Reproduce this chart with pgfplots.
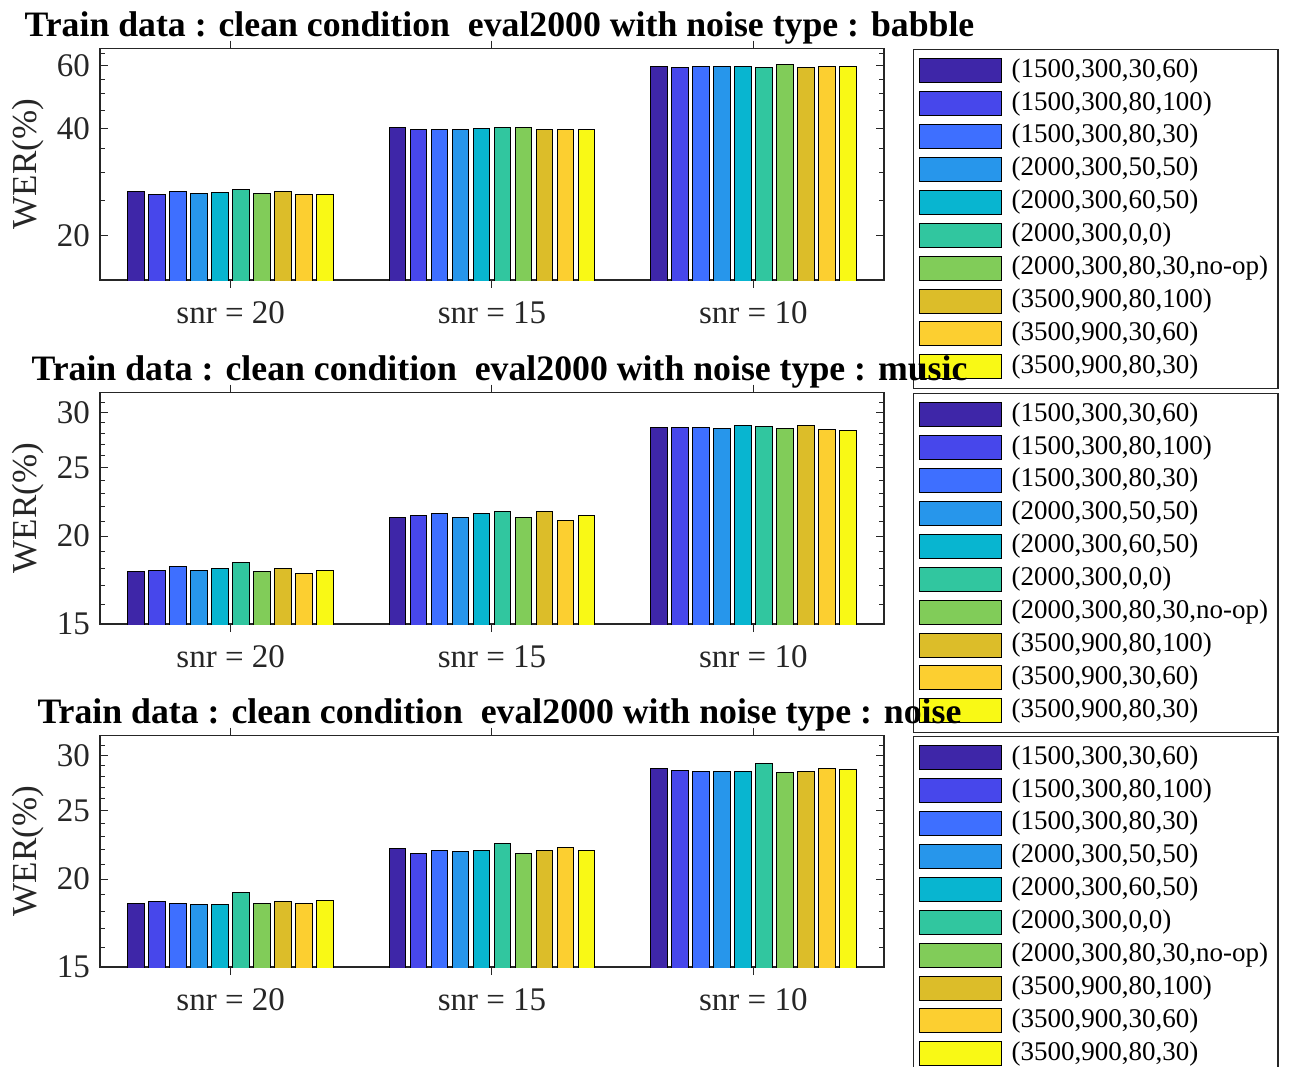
\documentclass[border=0pt]{standalone}
\usepackage{fontspec}
\setmainfont{Liberation Serif}
\usepackage{pgfplots}
\usepackage{pgfplotstable}
\pgfplotsset{compat=1.18}
\definecolor{c1}{RGB}{62,38,168}
\definecolor{c2}{RGB}{71,71,235}
\definecolor{c3}{RGB}{62,111,255}
\definecolor{c4}{RGB}{39,150,235}
\definecolor{c5}{RGB}{8,181,208}
\definecolor{c6}{RGB}{49,198,159}
\definecolor{c7}{RGB}{129,204,89}
\definecolor{c8}{RGB}{220,189,41}
\definecolor{c9}{RGB}{252,207,48}
\definecolor{c10}{RGB}{249,249,21}
\definecolor{axc}{RGB}{38,38,38}

\pgfplotstableread{
g s1 s2 s3 s4 s5 s6 s7 s8 s9 s10
1 26.5 26.1 26.6 26.3 26.4 27.0 26.2 26.5 26.1 26.0
2 40.1 39.6 39.7 39.7 39.9 40.3 40.1 39.7 39.7 39.6
3 59.7 59.4 59.6 59.6 59.5 59.4 60.3 59.2 59.7 59.7
}\babble
\pgfplotstableread{
g s1 s2 s3 s4 s5 s6 s7 s8 s9 s10
1 17.80 17.90 18.09 17.90 18.00 18.37 17.80 18.00 17.70 17.90
2 21.28 21.37 21.56 21.28 21.56 21.65 21.28 21.65 21.07 21.37
3 28.57 28.57 28.57 28.48 28.76 28.67 28.48 28.76 28.39 28.27
}\music
\pgfplotstableread{
g s1 s2 s3 s4 s5 s6 s7 s8 s9 s10
1 18.49 18.57 18.49 18.39 18.39 19.17 18.49 18.57 18.49 18.67
2 22.08 21.77 21.98 21.86 21.98 22.46 21.77 21.98 22.17 21.98
3 28.75 28.57 28.48 28.48 28.48 29.17 28.36 28.48 28.75 28.67
}\noise

\pgfplotscreateplotcyclelist{parula}{
{fill=c1,draw=black},{fill=c2,draw=black},{fill=c3,draw=black},{fill=c4,draw=black},{fill=c5,draw=black},{fill=c6,draw=black},{fill=c7,draw=black},{fill=c8,draw=black},{fill=c9,draw=black},{fill=c10,draw=black}}

\pgfplotsset{
  myaxis/.style={
    scale only axis, width=313.6pt, height=92.6pt,
    anchor=south west,
    xmin=0.5, xmax=3.5, xtick={1,2,3},
    xticklabels={snr = 20,snr = 15,snr = 10},
    tick align=inside,
    axis line style={axc, line width=0.5pt},
    major tick length=3.2pt, minor tick length=2pt,
    every tick/.style={axc, line width=0.4pt},
    tick label style={font=\fontsize{13.2}{15}\selectfont, text=axc},
    xticklabel style={yshift=-1.8pt},
    yticklabel style={xshift=-0.5pt},
    ylabel={WER(\%)},
    every axis y label/.style={at={(axis description cs:-0.092,0.5)}, rotate=90, anchor=center, font=\fontsize{14}{16}\selectfont, text=axc},
    title style={font=\bfseries\fontsize{14.3}{16}\selectfont, anchor=base, xshift=3pt, yshift=-1.3pt},
    legend style={at={(axis description cs:1,1)}, xshift=11.6pt, anchor=north west,
      draw=axc, line width=0.5pt, font=\fontsize{10.8}{13}\selectfont,
      row sep=1.15pt, inner xsep=2pt, inner ysep=2.7pt,
      nodes={inner ysep=0pt, text height=8.5pt, text depth=3.5pt},
      /tikz/every odd column/.append style={column sep=2pt},
      /tikz/every even column/.append style={column sep=1.5pt}},
    legend cell align=left,
    legend entries={{(1500,300,30,60)},{(1500,300,80,100)},{(1500,300,80,30)},{(2000,300,50,50)},{(2000,300,60,50)},{(2000,300,0,0)},{(2000,300,80,30,no-op)},{(3500,900,80,100)},{(3500,900,30,60)},{(3500,900,80,30)}},
  },
  barset/.style={
    cycle list name=parula,
    legend image code/.code={\draw[##1, bar shift=0pt, line width=0.4pt] (0pt,-4.8pt) rectangle (32.8pt,4.8pt);},
  },
}

\begin{document}
\begin{tikzpicture}
\path[use as bounding box] (0,0) rectangle (516.8pt,-426.4pt);
\begin{axis}[myaxis, ymode=log, ybar=1.7pt, bar width=6.7pt, barset,
  at={(40pt,-112pt)}, ymin=15, ymax=67,
  ytick={20,40,60}, yticklabels={20,40,60}, minor ytick={15,25,30,35,45,50,55,65},
  title={Train data : clean condition \ eval2000 with noise type : babble}]
\addplot table[x=g,y=s1]{\babble};
\addplot table[x=g,y=s2]{\babble};
\addplot table[x=g,y=s3]{\babble};
\addplot table[x=g,y=s4]{\babble};
\addplot table[x=g,y=s5]{\babble};
\addplot table[x=g,y=s6]{\babble};
\addplot table[x=g,y=s7]{\babble};
\addplot table[x=g,y=s8]{\babble};
\addplot table[x=g,y=s9]{\babble};
\addplot table[x=g,y=s10]{\babble};
\end{axis}
\begin{axis}[myaxis, ymode=log, ybar=1.7pt, bar width=6.7pt, barset,
  at={(40pt,-249.6pt)}, ymin=15, ymax=32, ytick={15,20,25,30}, yticklabels={15,20,25,30},
  minor ytick={16,17,18,19,21,22,23,24,26,27,28,29,31},
  title={Train data : clean condition \ eval2000 with noise type : music}]
\addplot table[x=g,y=s1]{\music};
\addplot table[x=g,y=s2]{\music};
\addplot table[x=g,y=s3]{\music};
\addplot table[x=g,y=s4]{\music};
\addplot table[x=g,y=s5]{\music};
\addplot table[x=g,y=s6]{\music};
\addplot table[x=g,y=s7]{\music};
\addplot table[x=g,y=s8]{\music};
\addplot table[x=g,y=s9]{\music};
\addplot table[x=g,y=s10]{\music};
\end{axis}
\begin{axis}[myaxis, ymode=log, ybar=1.7pt, bar width=6.7pt, barset,
  at={(40pt,-386.8pt)}, ymin=15, ymax=32, ytick={15,20,25,30}, yticklabels={15,20,25,30},
  minor ytick={16,17,18,19,21,22,23,24,26,27,28,29,31},
  title={Train data : clean condition \ eval2000 with noise type : noise}]
\addplot table[x=g,y=s1]{\noise};
\addplot table[x=g,y=s2]{\noise};
\addplot table[x=g,y=s3]{\noise};
\addplot table[x=g,y=s4]{\noise};
\addplot table[x=g,y=s5]{\noise};
\addplot table[x=g,y=s6]{\noise};
\addplot table[x=g,y=s7]{\noise};
\addplot table[x=g,y=s8]{\noise};
\addplot table[x=g,y=s9]{\noise};
\addplot table[x=g,y=s10]{\noise};
\end{axis}
\end{tikzpicture}
\end{document}
